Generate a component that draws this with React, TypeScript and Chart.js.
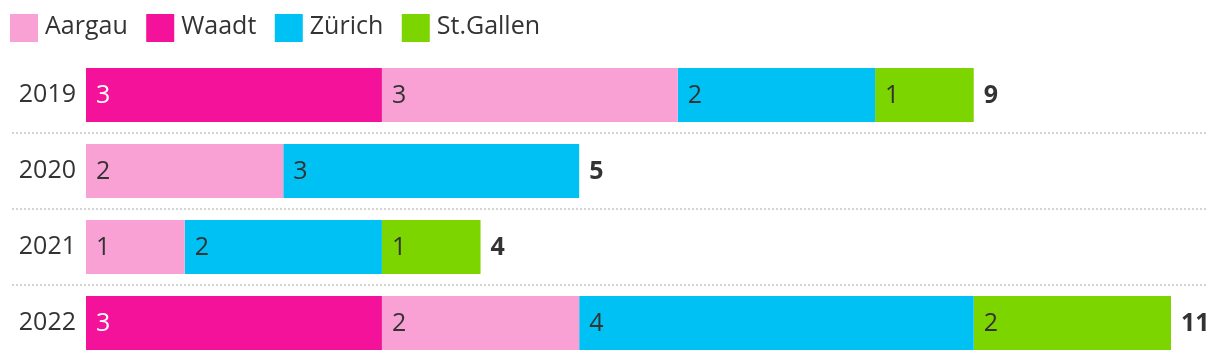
import React, { useEffect, useRef } from "react";
import { Chart, registerables } from "chart.js";

Chart.register(...registerables);

const categories = ["2019", "2020", "2021", "2022"];
const waadt = [3, null, null, 3];
const aargau = [3, 2, 1, 2];
const zuerich = [2, 3, 2, 4];
const stgallen = [1, null, 1, 2];
const totals = [9, 5, 4, 11];
const legendOrder = ["Aargau", "Waadt", "Zürich", "St.Gallen"];

const COLORS: Record<string, string> = {
  Waadt: "#F5129A",
  Aargau: "#F9A1D5",
  "Zürich": "#00C1F3",
  "St.Gallen": "#7DD500",
};
const FONT = "'Open Sans', 'Noto Sans', sans-serif";
const SIZE = 25;
const TEXT = "#333333";

const overlay = {
  id: "overlay",
  beforeDatasetsDraw(chart: any) {
    const ctx = chart.ctx;
    const y = chart.scales.y;
    ctx.save();
    ctx.strokeStyle = "#d4d4d4";
    ctx.lineWidth = 2;
    ctx.setLineDash([2, 2]);
    for (let i = 1; i < categories.length; i++) {
      const py = Math.round((y.getPixelForValue(i - 1) + y.getPixelForValue(i)) / 2);
      ctx.beginPath();
      ctx.moveTo(12, py);
      ctx.lineTo(1208, py);
      ctx.stroke();
    }
    ctx.restore();
  },
  afterDatasetsDraw(chart: any) {
    const ctx = chart.ctx;
    ctx.save();
    ctx.textBaseline = "alphabetic";
    ctx.textAlign = "left";
    ctx.font = `${SIZE}px ${FONT}`;
    chart.data.datasets.forEach((ds: any, di: number) => {
      const meta = chart.getDatasetMeta(di);
      meta.data.forEach((el: any, i: number) => {
        const v = ds.data[i];
        if (v == null) return;
        ctx.fillStyle = ds.label === "Waadt" ? "#ffffff" : TEXT;
        ctx.fillText(String(v), Math.min(el.x, el.base) + 10, el.y + 8);
      });
    });
    const xs = chart.scales.x;
    const ys = chart.scales.y;
    ctx.font = `bold ${SIZE}px ${FONT}`;
    ctx.fillStyle = TEXT;
    totals.forEach((t, i) => {
      ctx.fillText(String(t), xs.getPixelForValue(t) + 10, ys.getPixelForValue(i) + 8);
    });
    // legend
    ctx.font = `${SIZE}px ${FONT}`;
    let lx = 10;
    legendOrder.forEach((name) => {
      ctx.fillStyle = COLORS[name];
      ctx.fillRect(lx, 14, 28, 28);
      ctx.fillStyle = TEXT;
      ctx.fillText(name, lx + 35, 34);
      lx += 35 + ctx.measureText(name).width + 18.5;
    });
    ctx.restore();
  },
};

export default function App() {
  const ref = useRef<HTMLCanvasElement>(null);
  useEffect(() => {
    if (!ref.current) return;
    const mk = (label: string, data: (number | null)[]) => ({
      label,
      data,
      backgroundColor: COLORS[label],
      borderWidth: 0,
      categoryPercentage: 1,
      barPercentage: 54 / 76,
    });
    const chart = new Chart(ref.current, {
      type: "bar",
      data: {
        labels: categories,
        datasets: [
          mk("Waadt", waadt),
          mk("Aargau", aargau),
          mk("Zürich", zuerich),
          mk("St.Gallen", stgallen),
        ],
      },
      plugins: [overlay],
      options: {
        indexAxis: "y",
        animation: false,
        responsive: false,
        maintainAspectRatio: false,
        layout: { padding: { top: 57, bottom: 1, left: 0, right: 49 } },
        plugins: { legend: { display: false }, tooltip: { enabled: false } },
        scales: {
          x: { stacked: true, min: 0, max: 11, display: false },
          y: {
            stacked: true,
            grid: { display: false, drawTicks: false },
            border: { display: false },
            ticks: { color: TEXT, font: { family: FONT, size: SIZE }, padding: 10 },
            afterFit(scale: any) {
              scale.width = 86;
              scale.paddingTop = 0;
              scale.paddingBottom = 0;
            },
          },
        },
      },
    });
    return () => chart.destroy();
  }, []);
  return (
    <div style={{ position: "fixed", left: 0, top: 0, width: 1220, height: 362, background: "#fff" }}>
      <canvas ref={ref} width={1220} height={362} style={{ width: 1220, height: 362, display: "block" }} />
    </div>
  );
}
